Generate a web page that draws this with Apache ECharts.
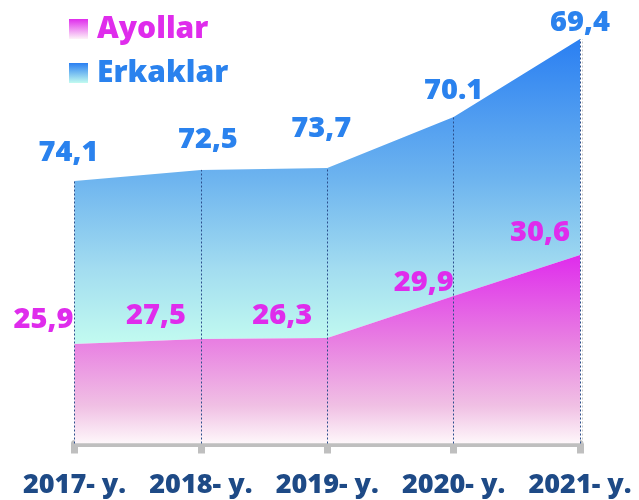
<!DOCTYPE html>
<html><head><meta charset="utf-8">
<script src="https://cdn.jsdelivr.net/npm/echarts@6/dist/echarts.min.js"></script>
<style>html,body{margin:0;padding:0;background:#fff}#c{width:639px;height:500px}</style>
</head><body><div id="c"></div>
<script>
// Categories
const years = ['2017- y.', '2018- y.', '2019- y.', '2020- y.', '2021- y.'];
// Printed values (as shown on the picture)
const ayollarLabels = ['25,9', '27,5', '26,3', '29,9', '30,6'];
const erkaklarLabels = ['74,1', '72,5', '73,7', '70.1', '69,4'];
// Drawn band heights (stacked)
const ayollarValues = [24.9, 26.1, 26.4, 36.9, 47.1];
const erkaklarValues = [40.7, 42.3, 42.5, 44.7, 54.0];

const FONT = '"Open Sans", "Noto Sans", sans-serif';
const W = 800;
const erkShift = [[-6, -9], [7, -11], [-6, -20], [0, -7], [0, 3]];
const ayShift = [[-1, -24], [-15, -23], [-15, -22], [0, -13], [-10, -22]];

const grad = (stops) => ({type: 'linear', x: 0, y: 0, x2: 0, y2: 1,
  colorStops: stops.map(s => ({offset: s[0], color: s[1]}))});
const erkGrad = grad([[0, '#2a7ff2'], [0.45, '#6cb3ef'], [0.75, '#a2dcf0'], [1, '#c2fbf0']]);
const ayGrad = grad([[0, '#df2cec'], [0.45, '#e87ee2'], [0.8, '#f0c0e4'], [1, '#fef7fa']]);

const totals = ayollarValues.map((v, i) => v + erkaklarValues[i]);
const chart = echarts.init(document.getElementById('c'), null, {renderer: 'canvas'});
chart.setOption({
  animation: false,
  grid: {left: 74.5, right: 59, top: 3.5, bottom: 56.5},
  legend: {
    orient: 'vertical', left: 69, top: 14, padding: 0, itemWidth: 19, itemHeight: 20, itemGap: 14,
    icon: 'rect',
    textStyle: {fontFamily: FONT, fontWeight: W, fontSize: 30, padding: [0, 0, 0, 4]},
    data: [
      {name: 'Ayollar', itemStyle: {color: grad([[0, '#df2cec'], [1, '#fdf3f8']])}, textStyle: {color: '#df2cec'}},
      {name: 'Erkaklar', itemStyle: {color: grad([[0, '#2a7ff2'], [1, '#c2fbf0']])}, textStyle: {color: '#2a82ee'}}
    ]
  },
  xAxis: {
    type: 'category', data: years, boundaryGap: false,
    axisLine: {lineStyle: {color: '#bfbfbf', width: 7}},
    axisTick: {show: true, length: 10, lineStyle: {color: '#bfbfbf', width: 7}},
    axisLabel: {color: '#1e4a86', fontFamily: FONT, fontWeight: W, fontSize: 27, margin: 28, interval: 0},
    splitLine: {show: false}
  },
  yAxis: {type: 'value', min: 0, max: 110, show: false},
  series: [
    {
      name: 'Ayollar', type: 'line', stack: 'all', symbol: 'circle', symbolSize: 0, showSymbol: true,
      lineStyle: {width: 0}, itemStyle: {color: '#df2cec'},
      areaStyle: {color: ayGrad, opacity: 1},
      data: ayollarValues.map((v, i) => ({value: v, label: {offset: ayShift[i], formatter: ayollarLabels[i]}})),
      label: {show: true, position: 'left', distance: 0, color: '#df2cec', fontFamily: FONT, fontWeight: W, fontSize: 29},
      markLine: {
        silent: true, symbol: 'none', label: {show: false},
        lineStyle: {color: '#2c4f8c', type: [2, 2], width: 1},
        data: totals.map((t, i) => [
          {coord: [i, 0], lineStyle: i === totals.length - 1 ? {shadowColor: '#c8c8c8', shadowOffsetX: 2, shadowBlur: 0, color: '#2c4f8c', type: [2, 2], width: 1} : undefined},
          {coord: [i, t]}
        ])
      },
      z: 4
    },
    {
      name: 'Erkaklar', type: 'line', stack: 'all', symbol: 'circle', symbolSize: 0, showSymbol: true,
      lineStyle: {width: 0}, itemStyle: {color: '#2a7ff2'},
      areaStyle: {color: erkGrad, opacity: 1},
      data: erkaklarValues.map((v, i) => ({value: v, label: {offset: erkShift[i], formatter: erkaklarLabels[i]}})),
      label: {show: true, position: 'top', distance: 5, color: '#2a82ee', fontFamily: FONT, fontWeight: W, fontSize: 29},
      z: 3
    }
  ]
});
</script>
</body></html>
